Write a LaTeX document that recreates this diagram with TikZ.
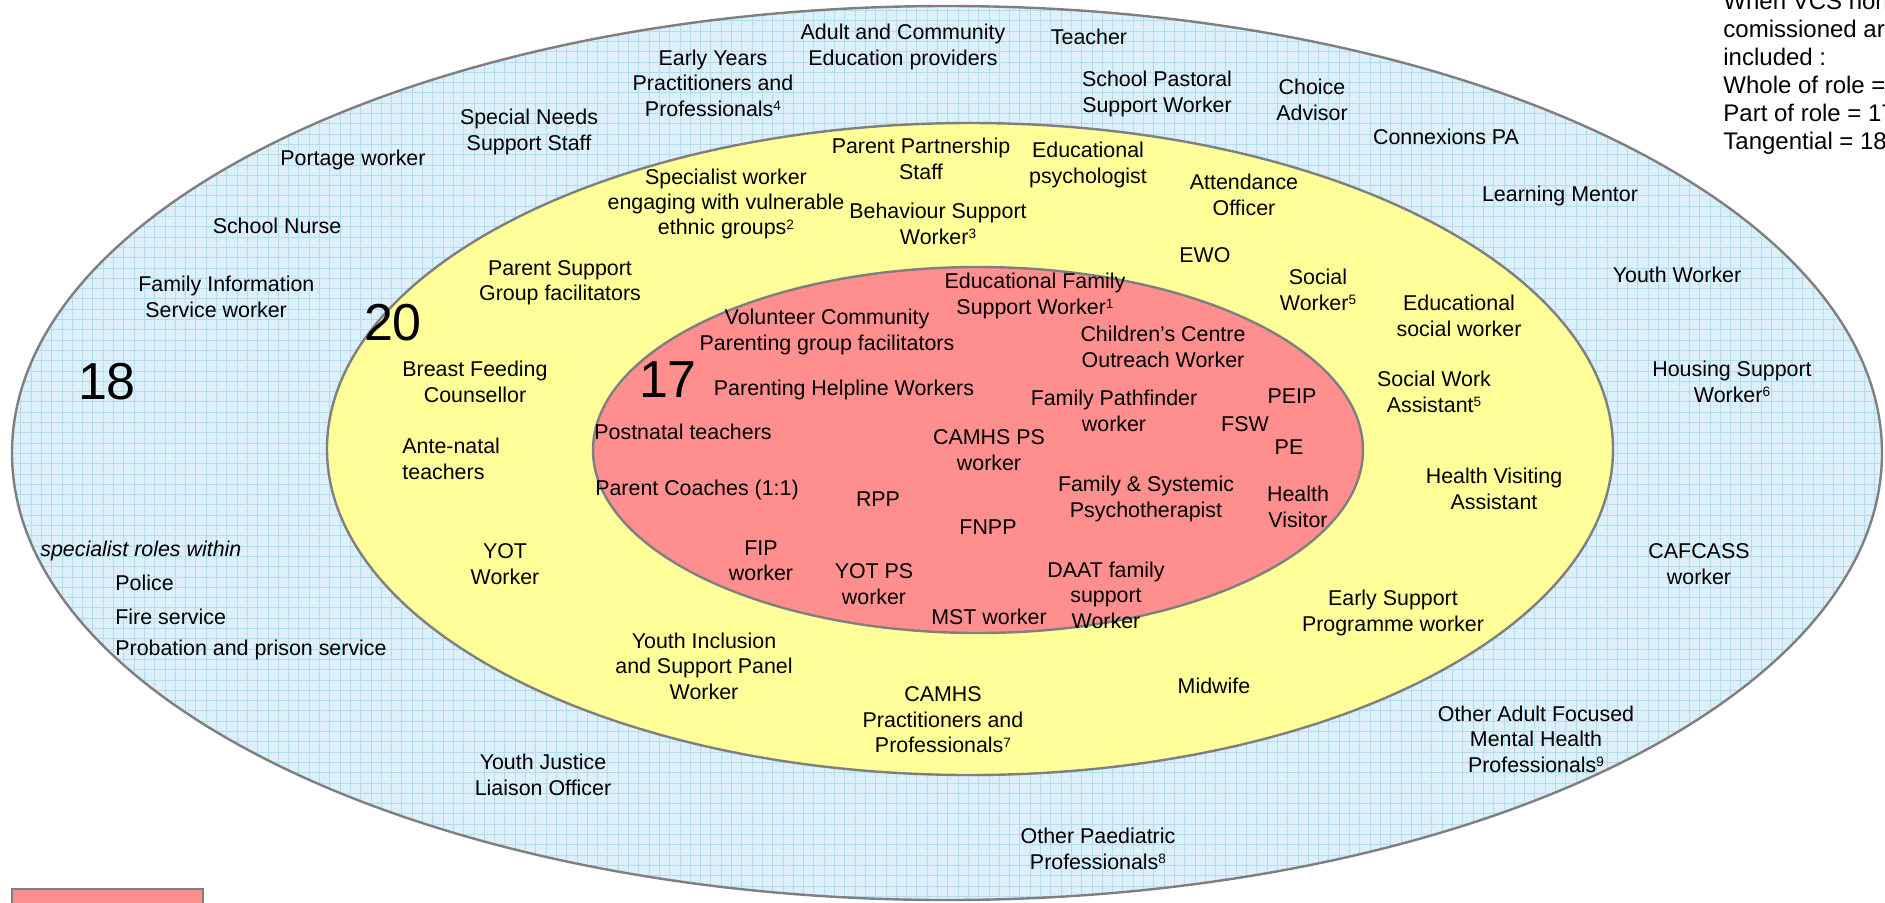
\documentclass[tikz,border=0pt]{standalone}
\usepackage{fontspec}
\setmainfont{Liberation Sans}
\definecolor{bluefill}{HTML}{DDEFF8}
\definecolor{gridc}{HTML}{B2DDF1}
\definecolor{yellowfill}{HTML}{FFFF99}
\definecolor{redfill}{HTML}{FF8F8F}
\definecolor{ringgray}{HTML}{7F7F7F}
\newcommand{\sps}[1]{\raisebox{0.5ex}{\fontsize{6.8}{7}\selectfont #1}}
\begin{document}
\begin{tikzpicture}[x=0.5pt,y=-0.5pt,
  lbl/.style={inner sep=0pt, align=center, font=\fontsize{10.7}{12.7}\selectfont},
  lbll/.style={inner sep=0pt, align=left, anchor=west, font=\fontsize{10.7}{12.7}\selectfont},
  big/.style={inner sep=0pt, font=\fontsize{26}{28}\selectfont},
  ring/.style={draw=ringgray, line width=1.2pt},
  gridline/.style={draw=gridc, line width=0.3pt}]
\useasboundingbox (0,0) rectangle (1885,902);
\begin{scope}
\clip (0,0) rectangle (1885,902);
% outer ring with grid
\begin{scope}
\clip (947,453) ellipse [x radius=935, y radius=447];
\fill[bluefill] (0,0) rectangle (1885,902);
\foreach \i in {0,10.3,...,1890} \draw[gridline] (\i,0) -- (\i,902);
\foreach \j in {0,10.3,...,905} \draw[gridline] (0,\j) -- (1885,\j);
\end{scope}
\draw[ring] (947,453) ellipse [x radius=935, y radius=447];
\filldraw[ring, fill=yellowfill] (970,449) ellipse [x radius=643, y radius=326];
\filldraw[ring, fill=redfill] (978,450) ellipse [x radius=385, y radius=183];
% legend box
\filldraw[ring, fill=redfill] (12,889) rectangle (203,910);
% top-right note
\node[inner sep=0pt, align=left, anchor=west, font=\fontsize{12}{14}\selectfont] (note) at (1723,73)
  {When VCS non-\\comissioned are\\included :\\Whole of role = 20\\Part of role = 17\\Tangential = 18};
% big numbers
\node[big] (n18) at (107,382) {18};
\node[big] (n20) at (393,323) {20};
\node[big] (n17) at (668,380) {17};
% outer ring labels
\node[lbl] (ace) at (903,47) {Adult and Community\\Education providers};
\node[lbl] (teach) at (1089,37) {Teacher};
\node[lbl] (eyp) at (713,83) {Early Years\\Practitioners and\\Professionals\sps{4}};
\node[lbl] (spsw) at (1157,94) {School Pastoral\\Support Worker};
\node[lbl] (choice) at (1312,100) {Choice\\Advisor};
\node[lbl] (sns) at (529,132) {Special Needs\\Support Staff};
\node[lbl] (cpa) at (1446,137) {Connexions PA};
\node[lbl] (portage) at (353,160) {Portage worker};
\node[lbl] (lm) at (1560,196) {Learning Mentor};
\node[lbl] (sn) at (277,226) {School Nurse};
\node[lbll] (fis) at (138,297) {Family Information\\\hspace*{3.5pt}Service worker};
\node[lbl] (yw) at (1677,275) {Youth Worker};
\node[lbl] (hsw) at (1732,382) {Housing Support\\Worker\sps{6}};
\node[lbll] (spec) at (40,551) {\itshape specialist roles within};
\node[lbll] (police) at (115,583) {Police};
\node[lbll] (fire) at (115,617) {Fire service};
\node[lbll] (prob) at (115,650) {Probation and prison service};
\node[lbl] (cafcass) at (1699,564) {CAFCASS\\worker};
\node[lbl] (yjlo) at (543,775) {Youth Justice\\Liaison Officer};
\node[lbl] (oamh) at (1536,739) {Other Adult Focused\\Mental Health\\Professionals\sps{9}};
\node[lbl] (opp) at (1098,849) {Other Paediatric\\Professionals\sps{8}};
% yellow ring labels
\node[lbl] (pps) at (921,159) {Parent Partnership\\Staff};
\node[lbl] (edpsy) at (1088,165) {Educational\\psychologist};
\node[lbl] (swev) at (726,204) {Specialist worker\\engaging with vulnerable\\ethnic groups\sps{2}};
\node[lbl] (bsw) at (938,224) {Behaviour Support\\Worker\sps{3}};
\node[lbl] (att) at (1244,195) {Attendance\\Officer};
\node[lbl] (ewo) at (1205,255) {EWO};
\node[lbl] (psg) at (560,283) {Parent Support\\Group facilitators};
\node[lbl] (socw) at (1318,290) {Social\\Worker\sps{5}};
\node[lbl] (esw) at (1459,316) {Educational\\social worker};
\node[lbl] (bfc) at (475,382) {Breast Feeding\\Counsellor};
\node[lbl] (swa) at (1434,392) {Social Work\\Assistant\sps{5}};
\node[lbll] (ant) at (402,459) {Ante-natal\\teachers};
\node[lbl] (hva) at (1494,489) {Health Visiting\\Assistant};
\node[lbl] (yotw) at (505,564) {YOT\\Worker};
\node[lbl] (esp) at (1393,613) {Early Support\\Programme worker};
\node[lbl] (yisp) at (704,666) {Youth Inclusion\\and Support Panel\\Worker};
\node[lbl] (midw) at (1214,686) {Midwife};
\node[lbl] (camhsp) at (943,720) {CAMHS\\Practitioners and\\Professionals\sps{7}};
% red core labels
\node[lbl] (efsw) at (1035,296) {Educational Family\\Support Worker\sps{1}};
\node[lbl] (vcp) at (827,332) {Volunteer Community\\Parenting group facilitators};
\node[lbl] (cco) at (1163,347) {Children’s Centre\\Outreach Worker};
\node[lbl] (phw) at (844,390) {Parenting Helpline Workers};
\node[lbl] (fpw) at (1114,411) {Family Pathfinder\\worker};
\node[lbl] (peip) at (1292,396) {PEIP};
\node[lbl] (fsw) at (1245,424) {FSW};
\node[lbll] (pnt) at (594,432) {Postnatal teachers};
\node[lbl] (camhsps) at (989,450) {CAMHS PS\\worker};
\node[lbl] (pe) at (1289,447) {PE};
\node[lbl] (pc) at (697,490) {Parent Coaches (1:1)};
\node[lbl] (rpp) at (878,499) {RPP};
\node[lbl] (fsp) at (1146,499) {Family \& Systemic\\Psychotherapist};
\node[lbl] (hv) at (1298,507) {Health\\Visitor};
\node[lbl] (fnpp) at (988,527) {FNPP};
\node[lbl] (fip) at (761,561) {FIP\\worker};
\node[lbl] (yotps) at (874,584) {YOT PS\\worker};
\node[lbl] (daat) at (1106,595) {DAAT family\\support\\Worker};
\node[lbl] (mst) at (989,617) {MST worker};
\end{scope}
\end{tikzpicture}
\end{document}
